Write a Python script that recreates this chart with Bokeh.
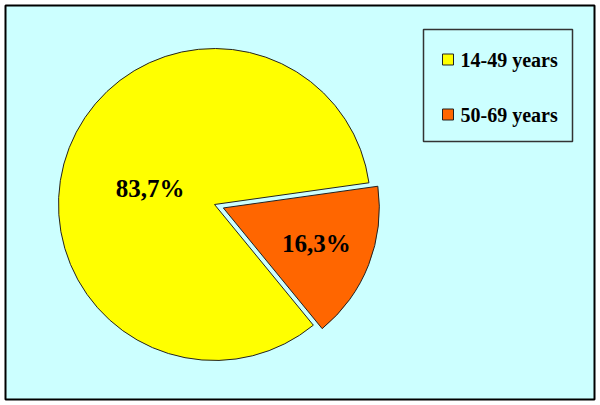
import math
from bokeh.plotting import figure
from bokeh.models import Range1d, ColumnDataSource
from bokeh.core.properties import value
from bokeh.embed import file_html
from bokeh.resources import INLINE

# ---- data ----
categories = ["14-49 years", "50-69 years"]
shares = [83.7, 16.3]
labels = ["83,7%", "16,3%"]
colors = ["#FFFF00", "#FF6600"]

# ---- layout ----
W, H = 600, 405
BG = "#CCFFFF"
FL, FR, FT, FB = 5, 594, 5, 399   # frame edges (screen px)
cx, cy_screen = 214, 204          # pie centre (screen px)
R = 156
start_deg = 8.0                   # first slice starts here, counter-clockwise
explode = [0.0, 9.5]
label_r = [68, 100]
label_nudge = [(-1, 9), (0, -1)]  # screen px (dx, dy-down)

def sy(y):                        # screen y -> data y
    return H - y

p = figure(width=W, height=H, output_backend="svg", toolbar_location=None,
           x_range=Range1d(FL, FR), y_range=Range1d(sy(FB), sy(FT)),
           min_border_left=FL, min_border_right=W - FR,
           min_border_top=FT, min_border_bottom=H - FB,
           background_fill_color=BG, border_fill_color="#FFFFFF",
           outline_line_color="#000000", outline_line_width=2)
p.axis.visible = False
p.grid.visible = False

total = sum(shares)
a0 = start_deg
xs, ys, sa, ea, lx, ly = [], [], [], [], [], []
for i, s in enumerate(shares):
    a1 = a0 + 360.0 * s / total
    mid = math.radians((a0 + a1) / 2)
    ox = cx + explode[i] * math.cos(mid)
    oy = sy(cy_screen) + explode[i] * math.sin(mid)
    xs.append(ox); ys.append(oy)
    sa.append(math.radians(a0)); ea.append(math.radians(a1))
    lx.append(ox + label_r[i] * math.cos(mid) + label_nudge[i][0])
    ly.append(oy + label_r[i] * math.sin(mid) - label_nudge[i][1])
    a0 = a1

src = ColumnDataSource(dict(x=xs, y=ys, sa=sa, ea=ea, color=colors,
                            lx=lx, ly=ly, label=labels, cat=categories))
p.wedge(x="x", y="y", radius=R, start_angle="sa", end_angle="ea",
        direction="anticlock", fill_color="color", line_color="#222222",
        line_width=1, source=src)
p.text(x="lx", y="ly", text="label", source=src, text_align="center",
       text_baseline="middle", text_font=value("Liberation Serif"),
       text_font_style="bold", text_font_size="25px", text_color="#000000")

# ---- legend (drawn manually) ----
lg_left, lg_right, lg_top, lg_bottom = 423, 572, 29, 141
p.quad(left=[lg_left], right=[lg_right], top=[sy(lg_top)], bottom=[sy(lg_bottom)],
       fill_color=BG, line_color="#333333", line_width=1.5)
row_y = [59, 114]
leg = ColumnDataSource(dict(x=[447.5] * 2, y=[sy(v) for v in row_y],
                            tx=[460] * 2, color=colors, cat=categories))
p.scatter(x="x", y="y", marker="square", size=11, fill_color="color",
          line_color="#222222", line_width=1, source=leg)
p.text(x="tx", y="y", text="cat", source=leg, text_align="left",
       text_baseline="middle", text_font=value("Liberation Serif"),
       text_font_style="bold", text_font_size="20px", text_color="#000000")

open("out.html", "w").write(file_html(p, INLINE))
